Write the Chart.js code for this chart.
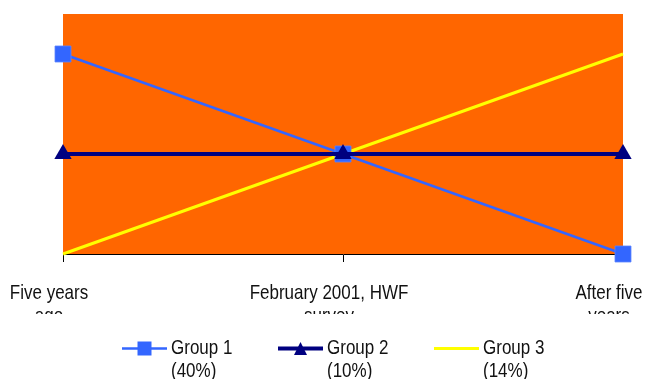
<!DOCTYPE html>
<html>
<head>
<meta charset="utf-8">
<title>Group outlook</title>
<script src="https://cdn.jsdelivr.net/npm/chart.js@4.4.1/dist/chart.umd.min.js"></script>
<style>
  html, body { margin: 0; padding: 0; background: #ffffff; }
  #wrap { width: 645px; height: 379px; }
</style>
</head>
<body>
<div id="wrap"><canvas id="chart" width="645" height="379"></canvas></div>
<script>
// Time points along the horizontal axis (each label wraps onto two lines)
const categories = [
  ["Five years", "ago"],
  ["February 2001, HWF", "survey"],
  ["After five", "years"]
];

// Series names and their shares, shown as two-line legend entries
const seriesNames = ["Group 1", "Group 2", "Group 3"];
const seriesShares = ["(40%)", "(10%)", "(14%)"];

// Relative position of each group at each time point
const group1Values = [2, 1, 0];
const group2Values = [1, 1, 1];
const group3Values = [0, 1, 2];

const FONT_FAMILY = '"Liberation Sans", Arial, sans-serif';
const TEXT_SCALE_Y = 1.15;

// Orange fill behind the plotting area
const plotBackground = {
  id: 'plotBackground',
  beforeDraw(chart) {
    const { ctx, chartArea: a } = chart;
    ctx.save();
    ctx.fillStyle = '#FF6600';
    ctx.fillRect(a.left, a.top, a.right - a.left, a.bottom - a.top);
    ctx.restore();
  }
};

// Draw text stretched slightly taller than the font's natural shape
function tallText(ctx, text, x, baseline, align) {
  ctx.save();
  ctx.translate(x, baseline);
  ctx.scale(1, TEXT_SCALE_Y);
  ctx.textAlign = align;
  ctx.textBaseline = 'alphabetic';
  ctx.fillText(text, 0, 0);
  ctx.restore();
}

// Category labels under the axis; the wrapped second line is cut off by the label box
const categoryLabels = {
  id: 'categoryLabels',
  afterDraw(chart) {
    const { ctx } = chart;
    const xs = chart.scales.x;
    ctx.save();
    ctx.beginPath();
    ctx.rect(0, xs.bottom, chart.width, 314 - xs.bottom);
    ctx.clip();
    ctx.fillStyle = '#111111';
    ctx.font = '17px ' + FONT_FAMILY;
    chart.data.labels.forEach((lines, i) => {
      const x = xs.getPixelForTick(i) - 14;
      lines.forEach((line, j) => {
        tallText(ctx, line, x, xs.bottom + 37 + j * 23, 'center');
      });
    });
    ctx.restore();
  }
};

function drawMarker(ctx, style, x, y, size, color) {
  ctx.save();
  ctx.fillStyle = color;
  ctx.beginPath();
  if (style === 'rect') {
    ctx.rect(x - size / 2, y - size / 2, size, size);
  } else if (style === 'triangle') {
    ctx.moveTo(x, y - size / 2);
    ctx.lineTo(x + size / 2, y + size / 2);
    ctx.lineTo(x - size / 2, y + size / 2);
    ctx.closePath();
  }
  ctx.fill();
  ctx.restore();
}

// Legend row under the chart: line sample with marker, then a two-line label
const bottomLegend = {
  id: 'bottomLegend',
  afterDraw(chart) {
    const { ctx } = chart;
    const startX = 122, stepX = 156, lineY = 348.5, sampleW = 45;
    ctx.save();
    ctx.font = '17px ' + FONT_FAMILY;
    ctx.fillStyle = '#111111';
    chart.data.datasets.forEach((ds, i) => {
      const x0 = startX + i * stepX;
      ctx.save();
      ctx.strokeStyle = ds.borderColor;
      ctx.lineWidth = ds.borderWidth;
      ctx.beginPath();
      ctx.moveTo(x0, lineY);
      ctx.lineTo(x0 + sampleW, lineY);
      ctx.stroke();
      ctx.restore();
      if (ds.pointRadius > 0) {
        drawMarker(ctx, ds.pointStyle, x0 + sampleW / 2, lineY, ds.legendMarkerSize, ds.pointBackgroundColor);
      }
      ctx.fillStyle = '#111111';
      ds.label.forEach((line, j) => {
        tallText(ctx, line, x0 + sampleW + 4, 353.5 + j * 23, 'left');
      });
    });
    ctx.restore();
  }
};

const datasets = [
  {
    label: [seriesNames[0], seriesShares[0]],
    data: group1Values,
    borderColor: '#3366FF',
    borderWidth: 2.5,
    pointStyle: 'rect',
    pointRadius: 11.3,
    pointBackgroundColor: '#3366FF',
    pointBorderColor: '#5A84FF',
    pointBorderWidth: 0.8,
    legendMarkerSize: 14,
    order: 1
  },
  {
    label: [seriesNames[1], seriesShares[1]],
    data: group2Values,
    borderColor: '#000080',
    borderWidth: 4,
    pointStyle: 'triangle',
    pointRadius: 10,
    pointBackgroundColor: '#000080',
    pointBorderColor: '#000080',
    pointBorderWidth: 0,
    legendMarkerSize: 13,
    order: 0
  },
  {
    label: [seriesNames[2], seriesShares[2]],
    data: group3Values,
    borderColor: '#FFFF00',
    borderWidth: 3,
    pointRadius: 0,
    legendMarkerSize: 0,
    order: 2
  }
];

new Chart(document.getElementById('chart'), {
  type: 'line',
  data: { labels: categories, datasets: datasets },
  options: {
    responsive: false,
    animation: false,
    events: [],
    clip: false,
    layout: { padding: { left: 63, right: 22, top: 14, bottom: 117 } },
    elements: { line: { tension: 0 }, point: { hoverRadius: 0 } },
    plugins: { legend: { display: false }, tooltip: { enabled: false } },
    scales: {
      x: {
        type: 'category',
        offset: false,
        ticks: { display: false },
        grid: { drawOnChartArea: false, drawTicks: true, tickLength: 8, color: '#000000', lineWidth: 1 },
        border: { display: true, color: '#000000', width: 1 }
      },
      y: {
        display: false,
        min: 0,
        max: 2.4
      }
    }
  },
  plugins: [plotBackground, categoryLabels, bottomLegend]
});
</script>
</body>
</html>
